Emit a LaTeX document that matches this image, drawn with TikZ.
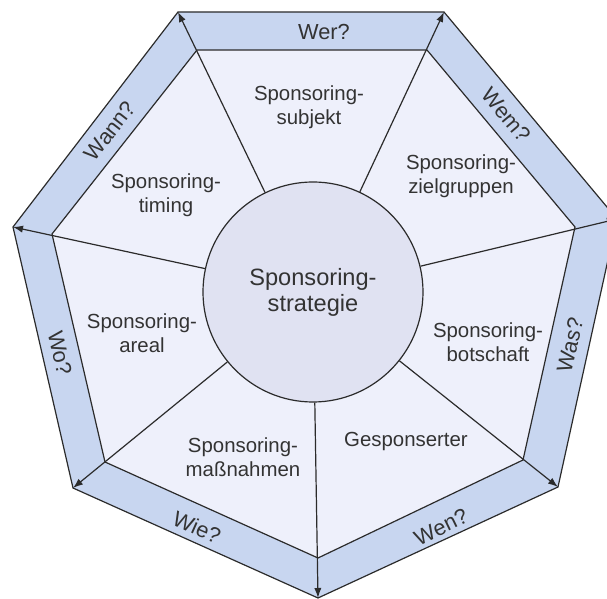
\documentclass[tikz,border=0pt]{standalone}
\usepackage{fontspec}
\setmainfont{Liberation Sans}
\usetikzlibrary{arrows.meta}
\definecolor{bandblue}{HTML}{C8D6F0}
\definecolor{fieldblue}{HTML}{EEF0FB}
\definecolor{coreblue}{HTML}{E0E2F2}
\definecolor{inkgray}{HTML}{2B2B2B}
\definecolor{textgray}{HTML}{333333}

\begin{document}
\begin{tikzpicture}[x=0.5pt,y=-0.5pt,
    edge/.style={draw=inkgray,line width=0.6pt},
    spoke/.style={draw=inkgray,line width=0.6pt,-{Latex[length=5pt,width=3.6pt]}},
    field/.style={text=textgray,align=center,font=\fontsize{10.2}{11.8}\selectfont},
    ask/.style={text=textgray,font=\fontsize{10.9}{13}\selectfont}]
    \useasboundingbox (0,0) rectangle (607,599);
    \clip (0,0) rectangle (607,599);
    \coordinate (o1) at (178,12);
    \coordinate (o2) at (444,12);
    \coordinate (o3) at (617,219);
    \coordinate (o4) at (558,487);
    \coordinate (o5) at (318,598);
    \coordinate (o6) at (73,488);
    \coordinate (o7) at (13,227);
    \coordinate (i1) at (197,50);
    \coordinate (i2) at (427,50);
    \coordinate (i3) at (575,227);
    \coordinate (i4) at (523,460);
    \coordinate (i5) at (318,558);
    \coordinate (i6) at (105,462);
    \coordinate (i7) at (52,234);
    \filldraw [edge,fill=bandblue] (o1) -- (o2) -- (o3) -- (o4) -- (o5) -- (o6) -- (o7) -- cycle;
    \filldraw [edge,fill=fieldblue] (i1) -- (i2) -- (i3) -- (i4) -- (i5) -- (i6) -- (i7) -- cycle;
    \node [circle,edge,fill=coreblue,minimum size=110pt,inner sep=0pt,text=textgray,align=center,font=\fontsize{11.8}{13}\selectfont] (core) at (313,292) {Sponsoring-\\strategie};
    \foreach \k in {1,...,7}
        \draw [spoke] (core) -- (o\k);
    \node [field] (subjekt) at (309,107) {Sponsoring-\\subjekt};
    \node [field] (zielgruppen) at (461,176) {Sponsoring-\\zielgruppen};
    \node [field] (botschaft) at (488,342) {Sponsoring-\\botschaft};
    \node [field] (gesponserter) at (406,441) {Gesponserter};
    \node [field] (massnahmen) at (243,457) {Sponsoring-\\maßnahmen};
    \node [field] (areal) at (142,333) {Sponsoring-\\areal};
    \node [field] (timing) at (166,195) {Sponsoring-\\timing};
    \node [ask] (wer) at (324,32) {Wer?};
    \node [ask,rotate=-50] (wem) at (506,115) {Wem?};
    \node [ask,rotate=77] (was) at (570,345) {Was?};
    \node [ask,rotate=26] (wen) at (441,527) {Wen?};
    \node [ask,rotate=-24] (wie) at (197,527) {Wie?};
    \node [ask,rotate=-77] (wo) at (60,353) {Wo?};
    \node [ask,rotate=52] (wann) at (110,131) {Wann?};
\end{tikzpicture}
\end{document}
